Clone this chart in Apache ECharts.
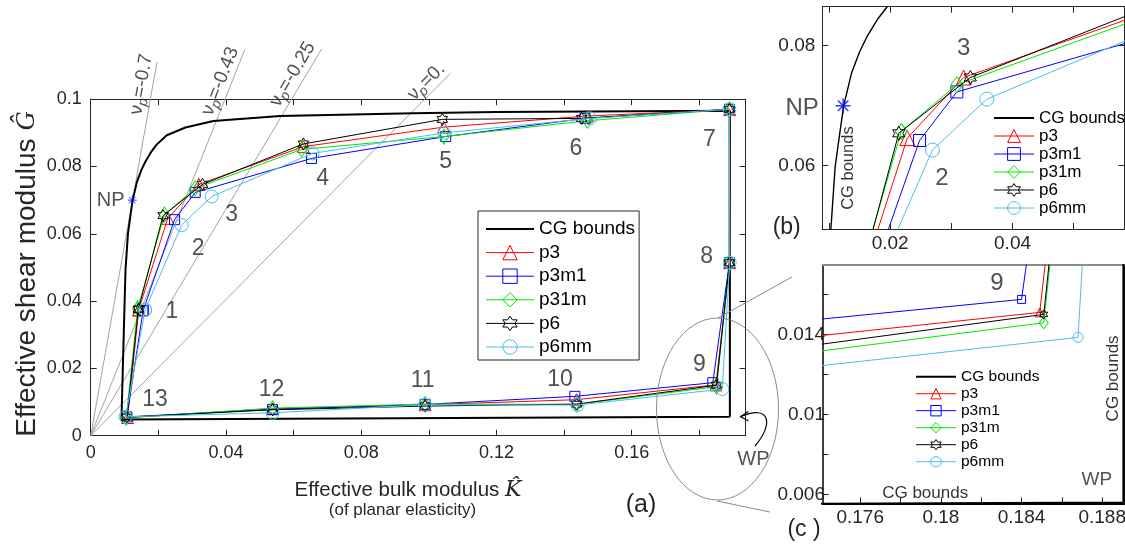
<!DOCTYPE html>
<html><head><meta charset="utf-8">
<script src="https://cdn.jsdelivr.net/npm/echarts@6/dist/echarts.min.js"></script>
<style>html,body{margin:0;padding:0;background:#fff}#c{width:1125px;height:546px}</style>
</head><body><div id="c"></div>
<script>
// ================= DATA =================
const seriesNames = ['p3', 'p3m1', 'p31m', 'p6', 'p6mm'];
const pointNames = ['1','2','3','4','5','6','7','8','9','10','11','12','13'];

const K_p3   = [0.0142, 0.0228, 0.0320, 0.0629, 0.1044, 0.1469, 0.1890, 0.1890, 0.1849, 0.1437, 0.0989, 0.0538, 0.0109];
const G_p3   = [0.0374, 0.0646, 0.0747, 0.0859, 0.0917, 0.0950, 0.0969, 0.0514, 0.0151, 0.0107, 0.0092, 0.0080, 0.0054];
const K_p3m1 = [0.0155, 0.0248, 0.0309, 0.0653, 0.1050, 0.1462, 0.1889, 0.1889, 0.1840, 0.1432, 0.0989, 0.0538, 0.0107];
const G_p3m1 = [0.0372, 0.0642, 0.0723, 0.0824, 0.0889, 0.0943, 0.0970, 0.0514, 0.01575, 0.0117, 0.0093, 0.0078, 0.0056];
const K_p31m = [0.0139, 0.0218, 0.0309, 0.0624, 0.1045, 0.1469, 0.1889, 0.1890, 0.1851, 0.1437, 0.0989, 0.0538, 0.0105];
const G_p31m = [0.0378, 0.0657, 0.0735, 0.0851, 0.0889, 0.0936, 0.0970, 0.0514, 0.01458, 0.0093, 0.0094, 0.0082, 0.0053];
const K_p6   = [0.0141, 0.0214, 0.0331, 0.0629, 0.1040, 0.1452, 0.1889, 0.1889, 0.1851, 0.1437, 0.0989, 0.0538, 0.0107];
const G_p6   = [0.0376, 0.0654, 0.0747, 0.0867, 0.0940, 0.0943, 0.0970, 0.0514, 0.0150, 0.0094, 0.0088, 0.0077, 0.0055];
const K_p6mm = [0.0161, 0.0269, 0.0358, 0.0656, 0.1046, 0.1477, 0.1889, 0.1890, 0.1868, 0.1440, 0.0989, 0.0538, 0.0103];
const G_p6mm = [0.0374, 0.0626, 0.0711, 0.0839, 0.0900, 0.0943, 0.0970, 0.0514, 0.01385, 0.0091, 0.0092, 0.0068, 0.0056];

// CG bounds (closed curve, starting at WP)
const cgK = [0.18905, 0.0091, 0.0095, 0.0099, 0.0103, 0.0110, 0.0117, 0.0124, 0.0137, 0.0150, 0.0162, 0.0180, 0.0195, 0.0225, 0.0280, 0.0363, 0.0560, 0.0954, 0.1200, 0.18905, 0.18905];
const cgG = [0.0056, 0.0048, 0.0200, 0.0350, 0.0494, 0.0598, 0.0650, 0.0700, 0.0755, 0.0790, 0.0815, 0.0845, 0.0865, 0.0893, 0.0916, 0.0935, 0.0950, 0.0958, 0.0962, 0.0966, 0.0056];

const npK = [0.0123];
const npG = [0.0700];

// Poisson-ratio reference lines (from origin to their drawn end)
const nuTexts   = ['-0.7', '-0.43', '-0.25', '0.'];
const nuEndK    = [0.0196, 0.0456, 0.0683, 0.1064];
const nuEndG    = [0.1110, 0.1148, 0.1149, 0.1077];
const nuLabelK  = [0.0150, 0.0383, 0.0597, 0.0993];
const nuLabelG  = [0.1044, 0.1053, 0.1074, 0.1052];

// point-number annotations, panel (a)
const numLabelKA = [0.0240, 0.0318, 0.0417, 0.0686, 0.1050, 0.1435, 0.1830, 0.1822, 0.1800, 0.1388, 0.0982, 0.0535, 0.0190];
const numLabelGA = [0.0369, 0.0557, 0.0656, 0.0765, 0.0814, 0.0854, 0.0881, 0.0532, 0.0210, 0.0166, 0.0163, 0.0136, 0.0106];
const textA  = ['NP', 'WP'];
const textKA = [0.0059, 0.1960];
const textGA = [0.0700, -0.0070];

// panel (b) annotations
const textB  = ['3', '2', 'NP', 'CG bounds'];
const textKB = [0.0320, 0.02845, 0.0056, 0.01313];
const textGB = [0.0795, 0.0579, 0.0696, 0.0596];
// panel (c) annotations
const textC  = ['9', 'CG bounds', 'WP', 'CG bounds'];
const textKC = [0.18278, 0.18856, 0.18773, 0.17922];
const textGC = [0.01655, 0.0118, 0.00672, 0.00605];

// axes
const aXMin = 0, aXMax = 0.1937, aYMin = 0, aYMax = 0.1;
const aXTicks  = [0, 0.02, 0.04, 0.06, 0.08, 0.10, 0.12, 0.14, 0.16, 0.18];
const aXLabels = [0, 0.04, 0.08, 0.12, 0.16];
const aYTicks  = [0, 0.02, 0.04, 0.06, 0.08, 0.1];
const bXMin = 0.0089, bXMax = 0.0583, bYMin = 0.04945, bYMax = 0.0865;
const bXTicks  = [0.01, 0.02, 0.03, 0.04, 0.05];
const bXLabels = [0.02, 0.04];
const bYTicks  = [0.06, 0.08];
const cXMin = 0.17413, cXMax = 0.1891, cYMin = 0.00555, cYMax = 0.01747;
const cXTicks  = [0.176, 0.178, 0.180, 0.182, 0.184, 0.186, 0.188];
const cXLabels = [0.176, 0.18, 0.184, 0.188];
const cYTicks  = [0.006, 0.008, 0.010, 0.012, 0.014, 0.016];
const cYLabels = [0.006, 0.01, 0.014];

// ================= STYLE =================
const FONT = 'Liberation Sans, Arial, Helvetica, sans-serif';
const TXT = '#262626';
const AX = '#262626';
const colors = { p3: '#ff0000', p3m1: '#0000ff', p31m: '#00e600', p6: '#000000', p6mm: '#4dbeee' };
function hexPath() {
  let s = 'path://';
  for (let k = 0; k < 12; k++) {
    const a = (-90 + 30 * k) * Math.PI / 180, r = (k % 2) ? 0.5774 : 1;
    s += (k ? 'L' : 'M') + (r * Math.cos(a)).toFixed(3) + ',' + (r * Math.sin(a)).toFixed(3) + ' ';
  }
  return s + 'Z';
}
const HEX = hexPath();
const ASTER = 'path://M0,-1L0,1M-1,0L1,0M-0.7,-0.7L0.7,0.7M-0.7,0.7L0.7,-0.7';
const symbols = { p3: 'triangle', p3m1: 'rect', p31m: 'diamond', p6: HEX, p6mm: 'circle' };
const sizes = [
  { p3: 12, p3m1: 10, p31m: [10, 15], p6: 12, p6mm: 13 },
  { p3: 15, p3m1: 12, p31m: [12, 16], p6: 14, p6mm: 14 },
  { p3: 9,  p3m1: 8,  p31m: [9, 12],  p6: 9,  p6mm: 10 }
];
const seriesK = { p3: K_p3, p3m1: K_p3m1, p31m: K_p31m, p6: K_p6, p6mm: K_p6mm };
const seriesG = { p3: G_p3, p3m1: G_p3m1, p31m: G_p31m, p6: G_p6, p6mm: G_p6mm };

const grids = [
  { left: 90.7, top: 99.2, width: (aXMax - aXMin) * 3381, height: (aYMax - aYMin) * 3365 },
  { left: 822.3, top: 6.7, width: (bXMax - bXMin) * 6117, height: (bYMax - bYMin) * 6000 },
  { left: 822.5, top: 265, width: (cXMax - cXMin) * 20167, height: (cYMax - cYMin) * 20000 }
];

function fmt(v) { return String(parseFloat((+v).toFixed(4))); }
function axis(gridIndex, position, min, max, ticks, labels, o) {
  return {
    type: 'value', gridIndex, position, min, max,
    axisLine: { show: true, onZero: false, lineStyle: { color: o.lineColor || AX, width: o.lineWidth || 1 } },
    axisTick: { show: !!ticks, inside: true, length: o.tickLen || 6, customValues: ticks || [], lineStyle: { color: AX, width: 1 } },
    axisLabel: { show: !!labels, customValues: labels || [], margin: o.margin || 0, fontSize: o.fs || 18,
      fontFamily: FONT, color: TXT, formatter: fmt, hideOverlap: false },
    splitLine: { show: false }, minorTick: { show: false }, splitArea: { show: false }
  };
}

const xAxes = [
  axis(0, 'bottom', aXMin, aXMax, aXTicks, aXLabels, { margin: 8.5, fs: 18 }),
  axis(0, 'top', aXMin, aXMax, aXTicks, null, {}),
  axis(1, 'bottom', bXMin, bXMax, bXTicks, bXLabels, { margin: 5, fs: 19 }),
  axis(1, 'top', bXMin, bXMax, bXTicks, null, {}),
  axis(2, 'bottom', cXMin, cXMax, cXTicks, cXLabels, { margin: 4.5, fs: 19, lineWidth: 2, lineColor: '#000' }),
  axis(2, 'top', cXMin, cXMax, null, null, { lineColor: '#8c8c8c', lineWidth: 2 })
];
const yAxes = [
  axis(0, 'left', aYMin, aYMax, aYTicks, aYTicks, { margin: 9, fs: 18 }),
  axis(0, 'right', aYMin, aYMax, aYTicks, null, {}),
  axis(1, 'left', bYMin, bYMax, bYTicks, bYTicks, { margin: 7, fs: 19 }),
  axis(1, 'right', bYMin, bYMax, bYTicks, null, {}),
  axis(2, 'left', cYMin, cYMax, cYTicks, cYLabels, { margin: -2.5, fs: 19, lineWidth: 1.5, lineColor: '#000' }),
  axis(2, 'right', cYMin, cYMax, null, null, { lineColor: '#000', lineWidth: 1 })
];

const series = [];
const cgWidth = [2, 1.4, 2];
for (let gi = 0; gi < 3; gi++) {
  const ax = gi * 2;
  series.push({
    type: 'line', name: 'CG bounds', xAxisIndex: ax, yAxisIndex: ax, z: 2,
    data: cgK.map((k, i) => [k, cgG[i]]), symbol: 'none', clip: true, silent: true,
    lineStyle: { color: '#000', width: cgWidth[gi] },
    itemStyle: { color: 'rgba(0,0,0,0)', borderColor: 'rgba(0,0,0,0)' }
  });
  seriesNames.forEach((nm, si) => {
    const K = seriesK[nm], G = seriesG[nm];
    const pts = K.map((k, i) => [k, G[i]]);
    pts.push(pts[0]);
    series.push({
      type: 'line', name: nm, xAxisIndex: ax, yAxisIndex: ax, z: 3 + si * 0.1,
      data: pts, symbol: symbols[nm], symbolSize: sizes[gi][nm], symbolKeepAspect: nm === 'p6',
      showAllSymbol: true, clip: true, silent: true,
      lineStyle: { color: colors[nm], width: 1 },
      itemStyle: { color: 'rgba(0,0,0,0)', borderColor: colors[nm], borderWidth: 1 }
    });
  });
  if (gi < 2) {
    series.push({
      type: 'scatter', name: 'NP', xAxisIndex: ax, yAxisIndex: ax, z: 6, clip: true, silent: true,
      data: npK.map((k, i) => [k, npG[i]]), symbol: ASTER, symbolSize: gi === 0 ? 9 : 15,
      itemStyle: { color: 'rgba(0,0,0,0)', borderColor: '#0000ff', borderWidth: gi === 0 ? 1 : 1.4 }
    });
  }
}

// Poisson ratio lines
const pxPerK = grids[0].width / (aXMax - aXMin), pxPerG = grids[0].height / (aYMax - aYMin);
nuTexts.forEach((t, i) => {
  series.push({
    type: 'line', name: 'nu' + i, xAxisIndex: 0, yAxisIndex: 0, z: 1, clip: false, silent: true,
    data: [[0, 0], [nuEndK[i], nuEndG[i]]], symbol: 'none',
    lineStyle: { color: '#9a9a9a', width: 0.9 }
  });
});
const nuData = nuTexts.map((t, i) => {
  const ang = Math.atan2(nuEndG[i] * pxPerG, nuEndK[i] * pxPerK) * 180 / Math.PI;
  return { value: [nuLabelK[i], nuLabelG[i]],
    label: { rotate: ang, formatter: '{v|ν}{s|p}{t|=' + t + '}' } };
});
series.push({
  type: 'scatter', name: 'nuLabels', xAxisIndex: 0, yAxisIndex: 0, z: 7, clip: false, silent: true,
  symbolSize: 1, itemStyle: { color: 'rgba(0,0,0,0)' }, data: nuData,
  label: { show: true, position: 'inside', color: TXT, fontFamily: FONT,
    rich: {
      v: { fontSize: 19, lineHeight: 24, verticalAlign: 'middle', color: TXT, fontFamily: FONT },
      s: { fontSize: 14, lineHeight: 24, verticalAlign: 'bottom', color: TXT, fontFamily: FONT, fontStyle: 'italic' },
      t: { fontSize: 19, lineHeight: 24, verticalAlign: 'middle', color: TXT, fontFamily: FONT }
    } }
});

function textSeries(ax, names, K, G, cfg) {
  return {
    type: 'scatter', name: 'txt' + ax + names[0], xAxisIndex: ax, yAxisIndex: ax, z: 8, clip: false, silent: true,
    symbolSize: 1, itemStyle: { color: 'rgba(0,0,0,0)' },
    data: names.map((n, i) => ({ name: n, value: [K[i], G[i]], label: cfg[i] || {} })),
    label: { show: true, position: 'inside', formatter: '{b}', color: TXT, fontFamily: FONT, fontSize: 23 }
  };
}
series.push(textSeries(0, pointNames, numLabelKA, numLabelGA, []));
series.push(textSeries(0, textA, textKA, textGA, [{ fontSize: 20 }, { fontSize: 20 }]));
series.push(textSeries(2, textB, textKB, textGB, [{ fontSize: 24 }, { fontSize: 24 }, { fontSize: 24 }, { fontSize: 16.5, rotate: 90, color: '#000' }]));
series.push(textSeries(4, textC, textKC, textGC, [{ fontSize: 24 }, { fontSize: 17, rotate: 90, color: '#000' }, { fontSize: 19 }, { fontSize: 17, color: '#000' }]));

const legendNames = ['CG bounds'].concat(seriesNames);
function legend(left, top, o) {
  return Object.assign({
    show: true, orient: 'vertical', left, top, data: legendNames, selectedMode: false,
    itemStyle: { borderWidth: 1 }, lineStyle: { width: 'inherit' },
    textStyle: { fontFamily: FONT, color: '#000' }
  }, o);
}
const legends = [
  legend(478, 211, { padding: [8, 4, 3, 7], itemWidth: 48, itemHeight: 18, itemGap: 3.6,
    borderColor: '#262626', borderWidth: 1, backgroundColor: '#fff', z: 10,
    textStyle: { fontFamily: FONT, color: '#000', fontSize: 19, lineHeight: 20 } }),
  legend(993, 109.5, { padding: 0, itemWidth: 40, itemHeight: 16, itemGap: 1,
    textStyle: { fontFamily: FONT, color: '#000', fontSize: 17, lineHeight: 17 } }),
  legend(915, 368.7, { padding: 0, itemWidth: 40, itemHeight: 13, itemGap: 1,
    textStyle: { fontFamily: FONT, color: '#000', fontSize: 15.5, lineHeight: 16 } })
];

const graphic = [
  { type: 'text', x: 27, y: 274, rotation: Math.PI / 2, z: 20,
    style: { text: '{a|Effective shear modulus }{g|Ĝ}', align: 'center', verticalAlign: 'middle',
      textAlign: 'center', textVerticalAlign: 'middle',
      rich: { a: { fontSize: 28, fontFamily: FONT, fill: TXT, color: TXT },
              g: { fontSize: 27, fontFamily: 'Liberation Serif, DejaVu Serif, serif', fontStyle: 'italic', fill: TXT, color: TXT } } } },
  { type: 'text', x: 408, y: 490, z: 20,
    style: { text: '{a|Effective bulk modulus }{k|K\u0302}', align: 'center', verticalAlign: 'middle',
      textAlign: 'center', textVerticalAlign: 'middle',
      rich: { a: { fontSize: 20.5, fontFamily: FONT, fill: TXT, color: TXT },
              k: { fontSize: 22, fontFamily: 'DejaVu Serif, Liberation Serif, serif', fontStyle: 'italic', fill: TXT, color: TXT } } } },
  { type: 'text', x: 402.5, y: 510.7, z: 20,
    style: { text: '(of planar elasticity)', fontSize: 17, fontFamily: FONT, fill: TXT, align: 'center', verticalAlign: 'middle', textAlign: 'center', textVerticalAlign: 'middle' } },
  { type: 'text', x: 641, y: 505, z: 20,
    style: { text: '(a)', fontSize: 25, fontFamily: FONT, fill: TXT, align: 'center', verticalAlign: 'middle', textAlign: 'center', textVerticalAlign: 'middle' } },
  { type: 'text', x: 786.7, y: 227.5, z: 20,
    style: { text: '(b)', fontSize: 23, fontFamily: FONT, fill: TXT, align: 'center', verticalAlign: 'middle', textAlign: 'center', textVerticalAlign: 'middle' } },
  { type: 'text', x: 804, y: 530, z: 20,
    style: { text: '(c )', fontSize: 23, fontFamily: FONT, fill: TXT, align: 'center', verticalAlign: 'middle', textAlign: 'center', textVerticalAlign: 'middle' } },
  { type: 'ellipse', z: 15, shape: { cx: 717.5, cy: 409, rx: 61, ry: 91 },
    style: { fill: 'none', stroke: '#8c8c8c', lineWidth: 1 } },
  { type: 'line', z: 15, shape: { x1: 718, y1: 318, x2: 792, y2: 277 }, style: { stroke: '#8c8c8c', lineWidth: 1 } },
  { type: 'line', z: 15, shape: { x1: 717, y1: 501, x2: 770, y2: 512 }, style: { stroke: '#8c8c8c', lineWidth: 1 } },
  { type: 'bezierCurve', z: 15, shape: { x1: 741, y1: 416.5, cpx1: 770, cpy1: 404, cpx2: 774, cpy2: 424, x2: 755, y2: 446 },
    style: { fill: 'none', stroke: '#000', lineWidth: 1.2 } },
  { type: 'polyline', z: 15, shape: { points: [[748.5, 411.5], [740.5, 416.7], [748.5, 421]] },
    style: { fill: 'none', stroke: '#000', lineWidth: 1.2 } }
];

const option = {
  animation: false,
  backgroundColor: '#fff',
  textStyle: { fontFamily: FONT },
  tooltip: { show: false },
  grid: grids.map(g => Object.assign({ containLabel: false, outerBoundsMode: 'none', show: false }, g)),
  xAxis: xAxes,
  yAxis: yAxes,
  legend: legends,
  series,
  graphic
};
const chart = echarts.init(document.getElementById('c'), null, { renderer: 'canvas' });
chart.setOption(option);
</script></body></html>
